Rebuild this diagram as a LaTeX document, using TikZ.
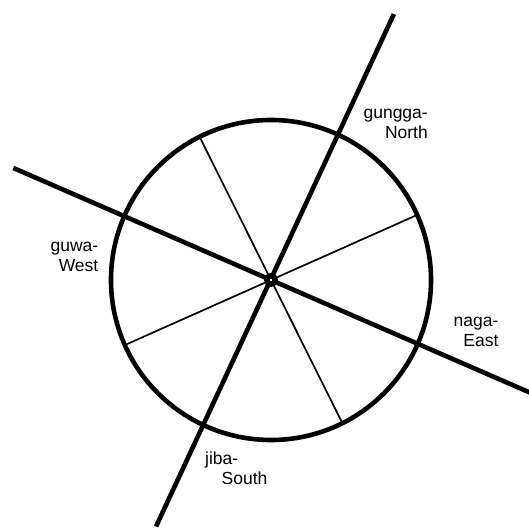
\documentclass[tikz,border=0pt]{standalone}
\usepackage{fontspec}
\setmainfont{Liberation Sans}
\usetikzlibrary{calc}

\begin{document}
\begin{tikzpicture}[x=1pt, y=1pt,
    axis/.style={line width=4.6pt},
    spoke/.style={line width=1.7pt},
    dirlabel/.style={font=\fontsize{17.5}{20.5}\selectfont, inner sep=0pt}]
    \useasboundingbox (0, 0) rectangle (529, 531);
    \coordinate (centre) at (271, 251);

    % thin spokes between the main directions
    \draw[spoke] ($(centre)+(116.5:160)$) -- ($(centre)+(296.5:160)$);
    \draw[spoke] ($(centre)+(24:160)$) -- ($(centre)+(204:160)$);

    % main axes, North-South and West-East
    \draw[axis] ($(centre)+(245:272)$) -- ($(centre)+(65.2:293)$);
    \draw[axis] ($(centre)+(156.5:281)$) -- ($(centre)+(-23.5:295)$);

    \draw[axis] (centre) circle (160);
    \draw[line width=5.5pt, fill=white] (centre) circle (4.2);

    \node[dirlabel, align=right, anchor=base east] (north) at (428, 392) {gungga-\\North};
    \node[dirlabel, align=right, anchor=base east] (west) at (98.5, 259.3) {guwa-\\West};
    \node[dirlabel, align=right, anchor=base east] (east) at (498.6, 184.3) {naga-\\East};
    \node[dirlabel, align=left, anchor=base west] (south) at (205, 46) {jiba-\\\hspace*{16.5pt}South};
\end{tikzpicture}
\end{document}
